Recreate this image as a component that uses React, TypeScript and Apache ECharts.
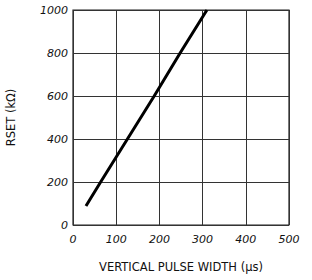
import React, { useEffect, useRef } from "react";
import * as echarts from "echarts";

const pulseWidth = [30, 64, 126, 188, 248, 310];
const rset = [88, 200, 400, 600, 800, 1000];
const xTicks = [0, 100, 200, 300, 400, 500];
const yTicks = [0, 200, 400, 600, 800, 1000];

export default function App() {
  const ref = useRef<HTMLDivElement>(null);
  useEffect(() => {
    const chart = echarts.init(ref.current!, null, { renderer: "svg" });
    const font = "DejaVu Sans";
    chart.setOption({
      animation: false,
      backgroundColor: "#fff",
      grid: {
        left: 73,
        right: 23,
        top: 10,
        bottom: 55,
        outerBoundsMode: "none",
        show: true,
        borderColor: "#222",
        borderWidth: 1.2,
      },
      xAxis: {
        type: "value",
        min: xTicks[0],
        max: xTicks[xTicks.length - 1],
        interval: 100,
        name: "VERTICAL PULSE WIDTH (\u00b5s)",
        nameLocation: "middle",
        nameGap: 36,
        nameTextStyle: { fontFamily: font, fontSize: 11.5, color: "#111" },
        axisLine: { show: false },
        axisTick: { show: false },
        axisLabel: {
          margin: 9,
          fontFamily: font,
          fontSize: 11,
          fontStyle: "italic",
          color: "#111",
          formatter: (v: number) => String(v),
        },
        splitLine: { show: true, lineStyle: { color: "#333", width: 1 } },
      },
      yAxis: {
        type: "value",
        min: yTicks[0],
        max: yTicks[yTicks.length - 1],
        interval: 200,
        name: "RSET (k\u03a9)",
        nameLocation: "middle",
        nameGap: 56,
        nameTextStyle: { fontFamily: font, fontSize: 11.5, color: "#111" },
        axisLine: { show: false },
        axisTick: { show: false },
        axisLabel: {
          margin: 5,
          fontFamily: font,
          fontSize: 11,
          fontStyle: "italic",
          color: "#111",
          formatter: (v: number) => String(v),
        },
        splitLine: { show: true, lineStyle: { color: "#333", width: 1 } },
      },
      series: [
        {
          type: "line",
          data: pulseWidth.map((x, i) => [x, rset[i]]),
          showSymbol: false,
          lineStyle: { color: "#000", width: 3 },
        },
      ],
    });
    return () => chart.dispose();
  }, []);
  return (
    <div
      ref={ref}
      style={{ position: "fixed", left: 0, top: 0, width: 312, height: 280 }}
    />
  );
}
